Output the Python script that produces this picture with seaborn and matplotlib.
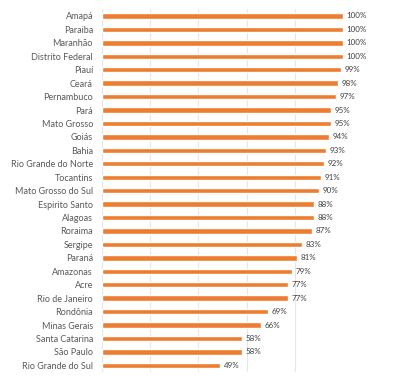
import matplotlib
matplotlib.use("Agg")
import matplotlib.pyplot as plt
import seaborn as sns
import pandas as pd

# Share of something by Brazilian state (%)
estados = ["Amapá", "Paraiba", "Maranhão", "Distrito Federal", "Piauí", "Ceará",
           "Pernambuco", "Pará", "Mato Grosso", "Goiás", "Bahia",
           "Rio Grande do Norte", "Tocantins", "Mato Grosso do Sul",
           "Espirito Santo", "Alagoas", "Roraima", "Sergipe", "Paraná",
           "Amazonas", "Acre", "Rio de Janeiro", "Rondônia", "Minas Gerais",
           "Santa Catarina", "São Paulo", "Rio Grande do Sul"]
valores = [100, 100, 100, 100, 99, 98, 97, 95, 95, 94, 93, 92, 91, 90,
           88, 88, 87, 83, 81, 79, 77, 77, 69, 66, 58, 58, 49]

df = pd.DataFrame({"estado": estados, "valor": valores})

sns.set_style("white")
plt.rcParams["font.family"] = ["Lato", "DejaVu Sans"]

fig = plt.figure(figsize=(4, 3.84), dpi=100)
ax = fig.add_axes([0.255, 0.031, 0.6025, 0.945])

sns.barplot(data=df, x="valor", y="estado", color="#ED7D31", saturation=1,
            width=0.4, ax=ax)

ax.set_xlim(0, 100)
ax.set_xticks([0, 20, 40, 60, 80, 100])
ax.grid(axis="x", color="#e6e6e6", linewidth=0.8)
ax.set_axisbelow(True)
ax.tick_params(axis="x", bottom=False, labelbottom=False)
ax.tick_params(axis="y", left=False, labelsize=6.5, labelcolor="#595959", pad=3)
ax.set_xlabel("")
ax.set_ylabel("")
for s in ax.spines.values():
    s.set_visible(False)
ax.axvline(0, color="#e0e0e0", linewidth=0.8, zorder=0)

for i, v in enumerate(valores):
    ax.text(v + 1.5, i, f"{v}%", va="center", ha="left", fontsize=5.8,
            color="#404040", clip_on=False)

fig.savefig("out.png", dpi=100)
